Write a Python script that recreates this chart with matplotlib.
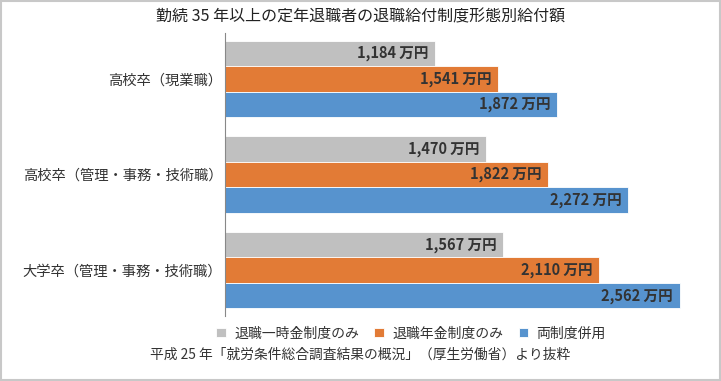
import numpy as np
import matplotlib.pyplot as plt
from matplotlib.patches import Rectangle

plt.rcParams['font.family'] = ['Noto Sans CJK JP', 'DejaVu Sans']

categories = ['高校卒（現業職）', '高校卒（管理・事務・技術職）', '大学卒（管理・事務・技術職）']
series_names = ['退職一時金制度のみ', '退職年金制度のみ', '両制度併用']
lump_sum = [1184, 1470, 1567]
pension = [1541, 1822, 2110]
both = [1872, 2272, 2562]
colors = ['#c0c0c0', '#e27b36', '#5793ce']

title = '勤続 35 年以上の定年退職者の退職給付制度形態別給付額'
source = '平成 25 年「就労条件総合調査結果の概況」（厚生労働省）より抜粋'

fig = plt.figure(figsize=(7.21, 3.81), dpi=100)
ax = fig.add_axes([0.312, 0.1706, 0.6645, 0.7428])

y = np.arange(len(categories))
h = 0.266
for i, (vals, name, c) in enumerate(zip([lump_sum, pension, both], series_names, colors)):
    pos = y + (i - 1) * h
    ax.barh(pos, vals, height=h, color=c, label=name, edgecolor='white', linewidth=0.6)
    for p, v in zip(pos, vals):
        ax.text(v - 38, p, f'{v:,} 万円', ha='right', va='center',
                fontsize=10.5, fontweight='bold', color='#333333')

ax.set_xlim(0, 2700)
ax.set_ylim(2.48, -0.48)
ax.set_yticks(y)
ax.set_yticklabels(categories, fontsize=10.3, color='#333333')
ax.tick_params(axis='y', length=0, pad=2)
ax.set_xticks([])
for s in ['top', 'right', 'bottom']:
    ax.spines[s].set_visible(False)
ax.spines['left'].set_color('#888888')
ax.spines['left'].set_linewidth(0.8)

fig.text(0.5, 0.955, title, ha='center', va='center', fontsize=11.5, color='#222222')
leg = fig.legend(loc='center', bbox_to_anchor=(0.57, 0.125), ncol=3, frameon=False,
                 fontsize=10, handlelength=0.7, handleheight=0.7, handletextpad=0.6,
                 columnspacing=1.1)
for t in leg.get_texts():
    t.set_color('#333333')
fig.text(0.5, 0.07, source, ha='center', va='center', fontsize=9.9, color='#333333')

fig.add_artist(Rectangle((0.001, 0.002), 0.997, 0.995, transform=fig.transFigure,
                         fill=False, edgecolor='#c8c8c8', linewidth=1.5))

fig.savefig('out.png', dpi=100)
